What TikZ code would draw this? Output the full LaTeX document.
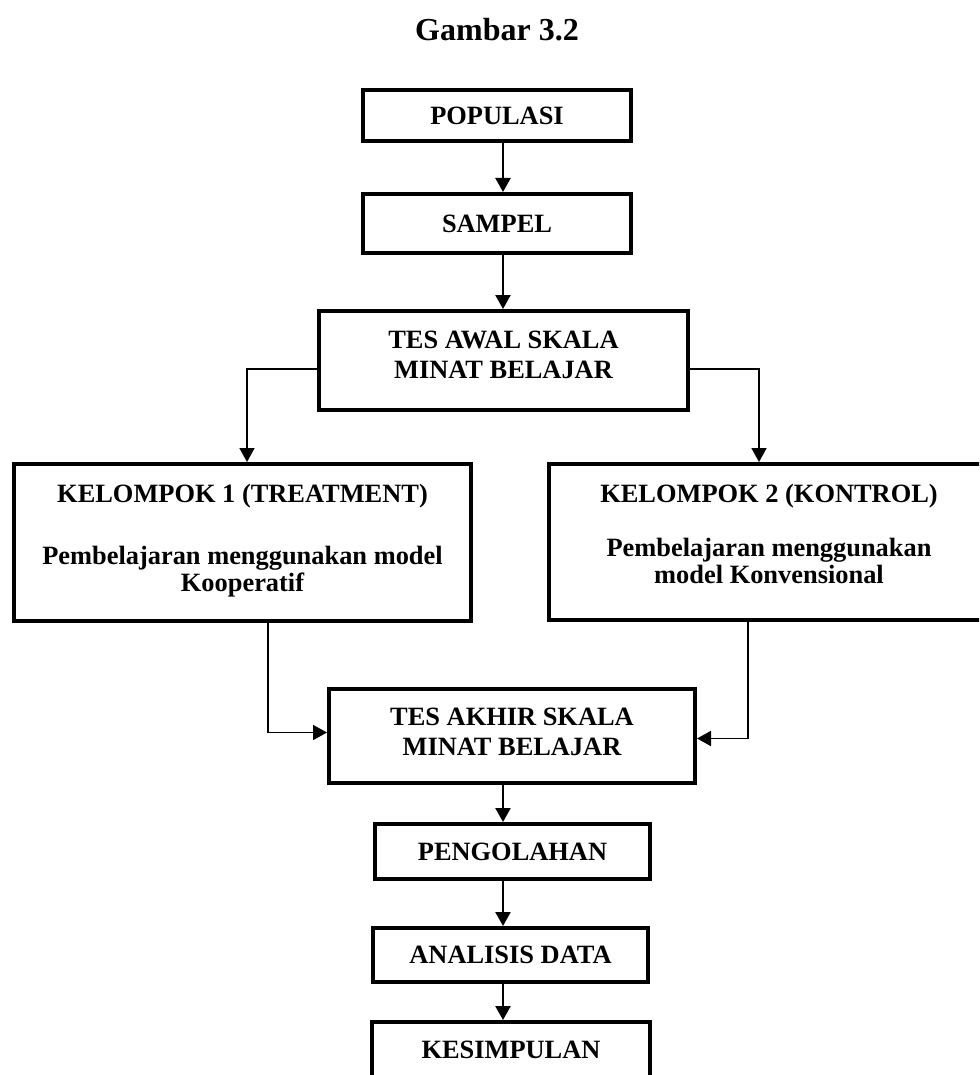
\documentclass[tikz,border=0pt]{standalone}
\usepackage{fontspec}
\setmainfont{Liberation Serif}
\usetikzlibrary{arrows.meta,calc}

\tikzset{
	kotak/.style={draw, line width=4pt, inner sep=0pt, align=center, font=\fontsize{26.4}{30}\selectfont\bfseries},
	isi/.style={inner sep=0pt, align=center, anchor=north, font=\fontsize{26.4}{27}\selectfont\bfseries},
	panah/.style={line width=2.4pt, -{Triangle[length=14pt,width=15pt]}},
	siku/.style={line width=1.8pt, -{Triangle[length=14pt,width=15pt]}}
}

\begin{document}
\begin{tikzpicture}[x=1pt, y=-1pt]
			%%%%% START %%%%%
			\useasboundingbox (0, 0) rectangle (979, 1075);
			\clip (0, 0) rectangle (979, 1075);
			
			\node[anchor=base, font=\fontsize{32}{36}\selectfont\bfseries] (judul) at (497, 41) {Gambar 3.2};
			
			\node[kotak, minimum width=268pt, minimum height=51pt] (populasi) at (497, 115.5) {POPULASI};
			\node[kotak, minimum width=268pt, minimum height=59pt] (sampel) at (497, 223.5) {SAMPEL};
			\node[kotak, minimum width=369pt, minimum height=99pt] (tesawal) at (503.5, 360.5) {};
			\node[isi] (tesawalteks) at (503.5, 331) {TES AWAL SKALA\\[3pt]MINAT BELAJAR};
			
			\node[kotak, minimum width=457pt, minimum height=157pt] (kel1) at (242.5, 542.5) {};
			\node[isi] (kel1teks) at (242.5, 484) {KELOMPOK 1 (TREATMENT)\\[35pt]Pembelajaran menggunakan model\\Kooperatif};
			\node[kotak, minimum width=440pt, minimum height=156pt] (kel2) at (769, 542) {};
			\node[isi] (kel2teks) at (769, 484) {KELOMPOK 2 (KONTROL)\\[27pt]Pembelajaran menggunakan\\model Konvensional};
			
			\node[kotak, minimum width=366pt, minimum height=94pt] (tesakhir) at (512, 736) {};
			\node[isi] (tesakhirteks) at (512, 708) {TES AKHIR SKALA\\[3pt]MINAT BELAJAR};
			\node[kotak, minimum width=275pt, minimum height=55pt] (olah) at (512.5, 851.5) {PENGOLAHAN};
			\node[kotak, minimum width=275pt, minimum height=54pt] (analisis) at (510.5, 955) {ANALISIS DATA};
			\node[kotak, minimum width=278pt, minimum height=56pt] (simpul) at (511, 1050) {KESIMPULAN};
			
			\coordinate (sumbu) at (503, 0);
			
			\draw[panah] (populasi.south -| sumbu) -- (sampel.north -| sumbu);
			\draw[panah] (sampel.south -| sumbu) -- (tesawal.north -| sumbu);
			
			\draw[siku] ([yshift=-8.5pt]tesawal.west) -| ([xshift=4.5pt]kel1.north);
			\draw[siku] ([yshift=-8.5pt]tesawal.east) -| ([xshift=-10pt]kel2.north);
			
			\draw[siku] ([xshift=25.5pt]kel1.south) |- ([yshift=3.5pt]tesakhir.west);
			\draw[siku] ([xshift=-21pt]kel2.south) |- ([yshift=-2.5pt]tesakhir.east);
			
			\draw[panah] (tesakhir.south -| sumbu) -- (olah.north -| sumbu);
			\draw[panah] (olah.south -| sumbu) -- (analisis.north -| sumbu);
			\draw[panah] (analisis.south -| sumbu) -- (simpul.north -| sumbu);
			%%%%% END %%%%%
\end{tikzpicture}
\end{document}
